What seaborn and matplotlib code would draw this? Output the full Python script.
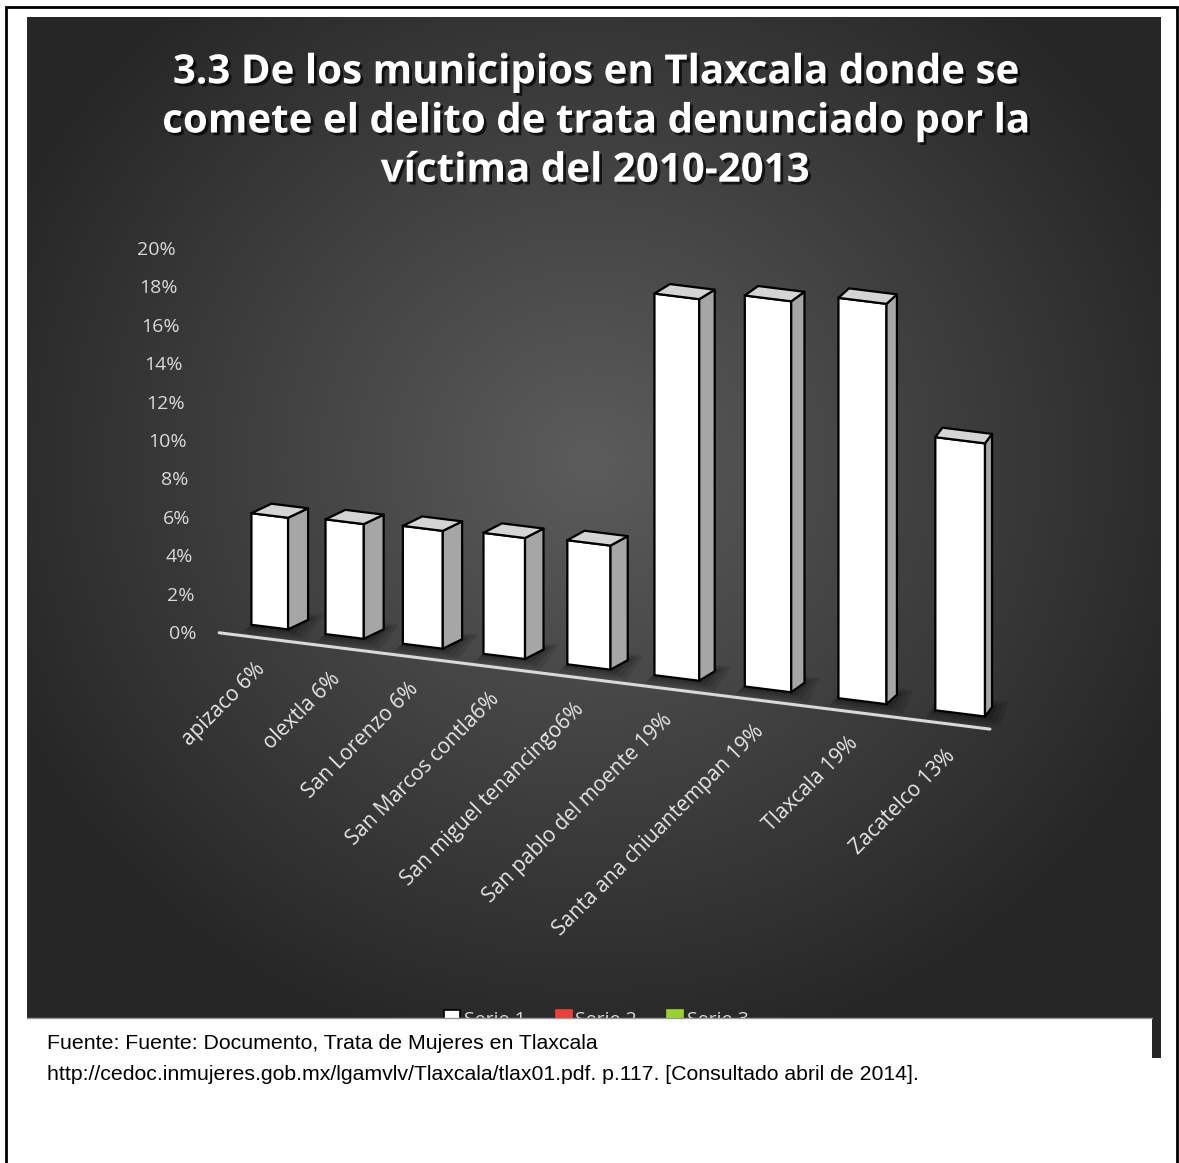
import numpy as np
import pandas as pd
import matplotlib
matplotlib.use("Agg")
import matplotlib.pyplot as plt
import seaborn as sns
from matplotlib.transforms import Affine2D, ScaledTranslation, IdentityTransform
from matplotlib.patches import Polygon, Rectangle
from matplotlib.lines import Line2D
import matplotlib.patheffects as pe

# ---------------- data ----------------
municipios = ["apizaco 6%", "olextla 6%", "San Lorenzo 6%", "San Marcos contla6%",
              "San miguel tenancingo6%", "San pablo del moente 19%",
              "Santa ana chiuantempan 19%", "Tlaxcala 19%", "Zacatelco 13%"]
porcentajes = [0.0625, 0.0625, 0.0625, 0.0625, 0.0625, 0.1875, 0.1875, 0.1875, 0.125]
y_ticks = [0.00, 0.02, 0.04, 0.06, 0.08, 0.10, 0.12, 0.14, 0.16, 0.18, 0.20]
y_tick_labels = ["0%", "2%", "4%", "6%", "8%", "10%", "12%", "14%", "16%", "18%", "20%"]
series_names = ["Serie 1", "Serie 2", "Serie 3"]
series_colors = ["#ffffff", "#e8413c", "#9bd12f"]
title_text = ("3.3 De los municipios en Tlaxcala donde se\n"
              "comete el delito de trata denunciado por la\n"
              "víctima del 2010-2013")
fuente_lines = ["Fuente: Fuente: Documento, Trata de Mujeres en Tlaxcala",
                "http://cedoc.inmujeres.gob.mx/lgamvlv/Tlaxcala/tlax01.pdf. p.117. [Consultado abril de 2014]."]

df = pd.DataFrame({"municipio": municipios, "valor": porcentajes})

# ---------------- figure ----------------
sns.set_style("white")
plt.rcParams["font.family"] = ["Open Sans", "DejaVu Sans"]
W, H = 1179, 1163
fig = plt.figure(figsize=(W / 100, H / 100), dpi=100)
fig.patch.set_facecolor("white")

def fx(px):
    return px / W

def fy(py):
    return 1 - py / H

# dark radial-gradient chart area
L, T, R, B = 27, 17, 1161, 1058
bg = fig.add_axes([fx(L), fy(B), fx(R - L), (B - T) / H])
yy, xx = np.mgrid[T:B, L:R]
r = np.sqrt((xx - 590.0) ** 2 + ((yy - 460.0) * 1.05) ** 2)
t = np.clip(r / 640.0, 0, 1)
c0, c1 = 0x5c / 255, 0x26 / 255
img = c0 * (1 - t) + c1 * t
bg.imshow(np.dstack([img, img, img]), aspect="auto", interpolation="bilinear")
bg.set_axis_off()

# main axes: y 0..20% from px 632 (bottom) to px 248 (top)
AX_L, AX_R, AX_B, AX_T = 198, 1061, 632, 248
ax = fig.add_axes([fx(AX_L), fy(AX_B), fx(AX_R - AX_L), (AX_B - AX_T) / H])
ax.set_facecolor("none")

sns.barplot(data=df, x="municipio", y="valor", ax=ax, width=0.5, color="white",
            saturation=1, edgecolor="black", linewidth=1.6, zorder=3)

# perspective along the category axis
kq = 0.0222
def fwd(x):
    x = np.asarray(x, dtype=float)
    return x + kq * x ** 2
def inv(y):
    y = np.asarray(y, dtype=float)
    return (-1 + np.sqrt(np.clip(1 + 4 * kq * y, 1e-9, None))) / (2 * kq)
ax.set_xscale("function", functions=(fwd, inv))
ax.set_xlim(-1, 9)
ax.set_ylim(0, 0.2)
for s in ax.spines.values():
    s.set_visible(False)
ax.set_xlabel("")
ax.set_ylabel("")

# sloping floor: shear in display space
k = 0.125
xref = 309
shear = Affine2D(np.array([[1, 0, 0], [-k, 1, k * xref], [0, 0, 1]]))

# ticks
ax.set_yticks(y_ticks, labels=y_tick_labels)
ax.set_xticks(range(len(municipios)), labels=municipios)
ax.tick_params(axis="y", length=0, labelcolor="#d9d9d9", labelsize=14)
ax.tick_params(axis="x", length=0, labelcolor="#e6e6e6", labelsize=15)
for v, lab in zip(y_ticks, ax.get_yticklabels()):
    dxp = -1 - 21 * (v / 0.2)
    lab.set_transform(ax.get_yaxis_transform() + ScaledTranslation(dxp / 100, 0, fig.dpi_scale_trans))
    lab.set_horizontalalignment("right")
for lab in ax.get_xticklabels():
    lab.set_fontstyle("normal")
    lab.set_transform(ax.get_xaxis_transform() + shear +
                      ScaledTranslation(-15 / 100, -32 / 100, fig.dpi_scale_trans))
    lab.set_rotation(45)
    lab.set_rotation_mode("anchor")
    lab.set_horizontalalignment("right")
    lab.set_verticalalignment("top")

# bars: perspective scaling and 3-D faces
bars = [p for p in ax.patches if isinstance(p, Rectangle)]
for i, p in enumerate(bars):
    sc = 0.93 + 0.026 * i
    p.set_transform(Affine2D().scale(1, sc) + ax.transData + shear)
    p.set_clip_on(False)

for i, p in enumerate(bars):
    v = p.get_transform().transform(np.array([[0, 0], [1, 0], [1, 1], [0, 1]], float))
    BL, BR, TR, TL = v
    d = np.array([20 - 13 * ((TR[0] - 287) / 700) ** 2, 9.5])
    # soft shadow
    for grow, a in [(16, 0.10), (11, 0.12), (6, 0.16)]:
        shp = np.array([BL + [-grow * 0.6, -grow * 0.5], BR + [grow, -grow * 0.6],
                        BR + d + [grow, grow * 0.3], BL + d + [-grow * 0.3, grow * 0.3]])
        ax.add_patch(Polygon(shp, closed=True, transform=IdentityTransform(),
                             facecolor="black", edgecolor="none", alpha=a,
                             clip_on=False, zorder=1))
    side = np.array([TR, BR, BR + d, TR + d])
    top = np.array([TL, TR, TR + d, TL + d])
    ax.add_patch(Polygon(side, closed=True, transform=IdentityTransform(),
                         facecolor="#a6a6a6", edgecolor="black", linewidth=1.6,
                         joinstyle="round", clip_on=False, zorder=3))
    ax.add_patch(Polygon(top, closed=True, transform=IdentityTransform(),
                         facecolor="#d4d4d4", edgecolor="black", linewidth=1.6,
                         joinstyle="round", clip_on=False, zorder=3))

# floor line
ax.plot([-0.7, 8.3], [0, 0], color="#d9d9d9", linewidth=2.2, clip_on=False,
        transform=ax.transData + shear + Affine2D().translate(0, -12), zorder=2)

# title
fig.text(fx(595), fy(122), title_text, ha="center", va="center", color="white",
         fontsize=29, fontweight="bold", family=["Open Sans", "DejaVu Sans"],
         linespacing=1.34,
         path_effects=[pe.withSimplePatchShadow(offset=(2, -2), shadow_rgbFace="black", alpha=0.7)])

# legend (partially hidden by the source box, as in the original)
handles = [Line2D([], [], marker="s", linestyle="none", markersize=11,
                  markerfacecolor=c, markeredgecolor="black" if c == "#ffffff" else c,
                  markeredgewidth=1.2) for c in series_colors]
leg = fig.legend(handles, series_names, loc="center", bbox_to_anchor=(fx(597), fy(1020)),
                 ncol=3, frameon=False, fontsize=14, labelcolor="#d9d9d9",
                 handlelength=0.7, handletextpad=0.25, columnspacing=1.6)
leg.set_zorder(5)

# source box
fig.add_artist(Rectangle((fx(8), fy(1163)), fx(1152 - 8), (1163 - 1018) / H,
                         transform=fig.transFigure, facecolor="white",
                         edgecolor="none", zorder=10))
fig.add_artist(Line2D([fx(27), fx(1152)], [fy(1018), fy(1018)], color="#9a9a9a",
                      linewidth=1, transform=fig.transFigure, zorder=11))
fig.text(fx(47), fy(1049), fuente_lines[0], fontfamily="Liberation Sans",
         fontsize=15.3, color="black", va="baseline", zorder=12)
fig.text(fx(47), fy(1080), fuente_lines[1], fontfamily="Liberation Sans",
         fontsize=15.3, color="black", va="baseline", zorder=12)

# outer page border
fig.add_artist(Rectangle((fx(6), -0.02), fx(1177 - 6), 1.02 - 7 / H,
                         transform=fig.transFigure, fill=False, edgecolor="black",
                         linewidth=2, zorder=20))

fig.savefig("out.png", dpi=100, facecolor="white")
